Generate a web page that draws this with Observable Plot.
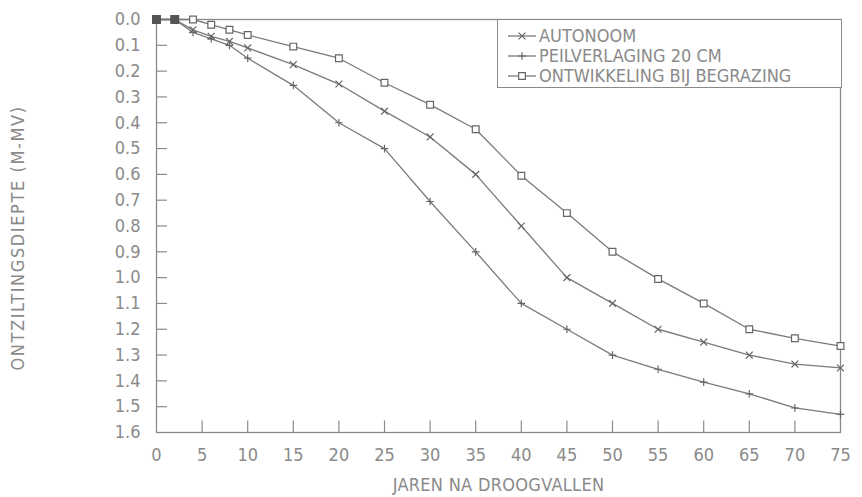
<!DOCTYPE html>
<html><head><meta charset="utf-8">
<script src="https://cdn.jsdelivr.net/npm/d3@7"></script>
<script src="https://cdn.jsdelivr.net/npm/@observablehq/plot@0.6"></script>
<style>
body{margin:0;background:#fff;}
#chart{position:relative;width:862px;height:497px;}
#chart svg{display:block;}
.legend{position:absolute;left:497px;top:19px;width:345px;height:69px;border:1.3px solid #8a8a8a;box-sizing:border-box;background:#fff;padding-top:6px;}
.legend .row{display:flex;align-items:center;height:20px;line-height:20px;font-family:"DejaVu Sans Condensed","DejaVu Sans",sans-serif;font-size:18px;color:#8a8a8a;}
.legend svg{margin-left:10px;margin-right:3px;}
</style></head><body><div id="chart"></div>
<script>
// ---- data ----
const years = [0, 2, 4, 6, 8, 10, 15, 20, 25, 30, 35, 40, 45, 50, 55, 60, 65, 70, 75];
const autonoom = [0, 0, 0.04, 0.065, 0.085, 0.11, 0.175, 0.25, 0.355, 0.455, 0.6, 0.8, 1.0, 1.1, 1.2, 1.25, 1.3, 1.335, 1.35];
const peilverlaging = [0, 0, 0.05, 0.075, 0.1, 0.15, 0.255, 0.4, 0.5, 0.705, 0.9, 1.1, 1.2, 1.3, 1.355, 1.405, 1.45, 1.505, 1.53];
const begrazing = [0, 0, 0, 0.02, 0.04, 0.06, 0.105, 0.15, 0.245, 0.33, 0.425, 0.605, 0.75, 0.9, 1.005, 1.1, 1.2, 1.235, 1.265];
const seriesNames = ["AUTONOOM", "PEILVERLAGING 20 CM", "ONTWIKKELING BIJ BEGRAZING"];
const seriesSymbols = ["times", "plus", "square"];
const xTicks = [0, 5, 10, 15, 20, 25, 30, 35, 40, 45, 50, 55, 60, 65, 70, 75];
const yTicks = [0, 0.1, 0.2, 0.3, 0.4, 0.5, 0.6, 0.7, 0.8, 0.9, 1.0, 1.1, 1.2, 1.3, 1.4, 1.5, 1.6];
const xLabel = "JAREN NA DROOGVALLEN";
const yLabel = "ONTZILTINGSDIEPTE (M-MV)";

// ---- table ----
const seriesValues = [autonoom, peilverlaging, begrazing];
const rows = [];
seriesNames.forEach((name, s) => years.forEach((t, i) => rows.push({series: name, t, v: seriesValues[s][i], sym: seriesSymbols[s]})));
const shared = years.map((t, i) => ({t, v: autonoom[i]})).filter((d, i) => autonoom[i] === peilverlaging[i] && autonoom[i] === begrazing[i]);

const lineColor = "#7a7a7a";
const textColor = "#8a8a8a";
const font = '"DejaVu Sans Condensed","DejaVu Sans",sans-serif';

const symSize = {times: 3.2, plus: 2.6, square: 3.8};

const plot = Plot.plot({
  width: 862,
  height: 497,
  marginLeft: 156,
  marginRight: 22,
  marginTop: 19,
  marginBottom: 65,
  style: {fontFamily: font, fontSize: "18px", color: textColor, background: "#fff"},
  x: {domain: [0, 75]},
  y: {domain: [0, 1.6], reverse: true},
  marks: [
    Plot.frame({stroke: "#8a8a8a", strokeWidth: 1.3}),
    Plot.ruleY(yTicks.slice(1, -1), {y: d => d, x1: 0, x2: 1.2, stroke: "#8a8a8a", strokeWidth: 1.2}),
    Plot.ruleX(xTicks.slice(1, -1), {x: d => d, y1: 1.6, y2: 1.555, stroke: "#8a8a8a", strokeWidth: 1.2}),
    Plot.axisY({ticks: yTicks, tickSize: 0, tickPadding: 16, tickFormat: d3.format(".1f"), label: null, fill: textColor}),
    Plot.axisX({ticks: xTicks, tickSize: 0, tickPadding: 16, tickFormat: d => String(d), label: null, fill: textColor}),
    Plot.line(rows, {x: "t", y: "v", z: "series", stroke: lineColor, strokeWidth: 1.3}),
    ...seriesSymbols.map((sym, s) => Plot.dot(rows.filter(d => d.series === seriesNames[s]), {x: "t", y: "v", symbol: sym, r: symSize[sym], stroke: "#666", strokeWidth: 1.2, fill: sym === "square" ? "#fff" : "none"})),
    Plot.dot(shared, {x: "t", y: "v", symbol: "square", r: 4.2, fill: "#555", stroke: "#555"}),
    Plot.text([xLabel], {frameAnchor: "bottom", textAnchor: "middle", lineAnchor: "middle", dy: 53, fill: textColor, className: "xlab"}),
    Plot.text([yLabel], {frameAnchor: "left", textAnchor: "middle", lineAnchor: "middle", rotate: -90, dx: -138, dy: 12, fill: textColor, className: "ylab"})
  ]
});
const chart = document.getElementById("chart");
chart.appendChild(plot);
d3.select(plot).selectAll(".ylab text").style("letter-spacing", "1.6px");
d3.select(plot).selectAll(".xlab text").style("letter-spacing", "0.3px");

// ---- legend ----
const legend = document.createElement("div");
legend.className = "legend";
const symMap = {times: d3.symbolTimes, plus: d3.symbolPlus, square: d3.symbolSquare};
seriesNames.forEach((name, s) => {
  const row = document.createElement("div");
  row.className = "row";
  const sym = seriesSymbols[s];
  const svg = d3.create("svg").attr("width", 28).attr("height", 20);
  svg.append("line").attr("x1", 0).attr("x2", 28).attr("y1", 10).attr("y2", 10).attr("stroke", lineColor).attr("stroke-width", 1.3);
  svg.append("path").attr("transform", "translate(14,10)")
    .attr("d", d3.symbol(symMap[sym], Math.PI * symSize[sym] ** 2)())
    .attr("fill", sym === "square" ? "#fff" : "none").attr("stroke", "#666").attr("stroke-width", 1.2);
  row.appendChild(svg.node());
  const span = document.createElement("span");
  span.textContent = name;
  row.appendChild(span);
  legend.appendChild(row);
});
chart.appendChild(legend);
</script>
</body></html>
